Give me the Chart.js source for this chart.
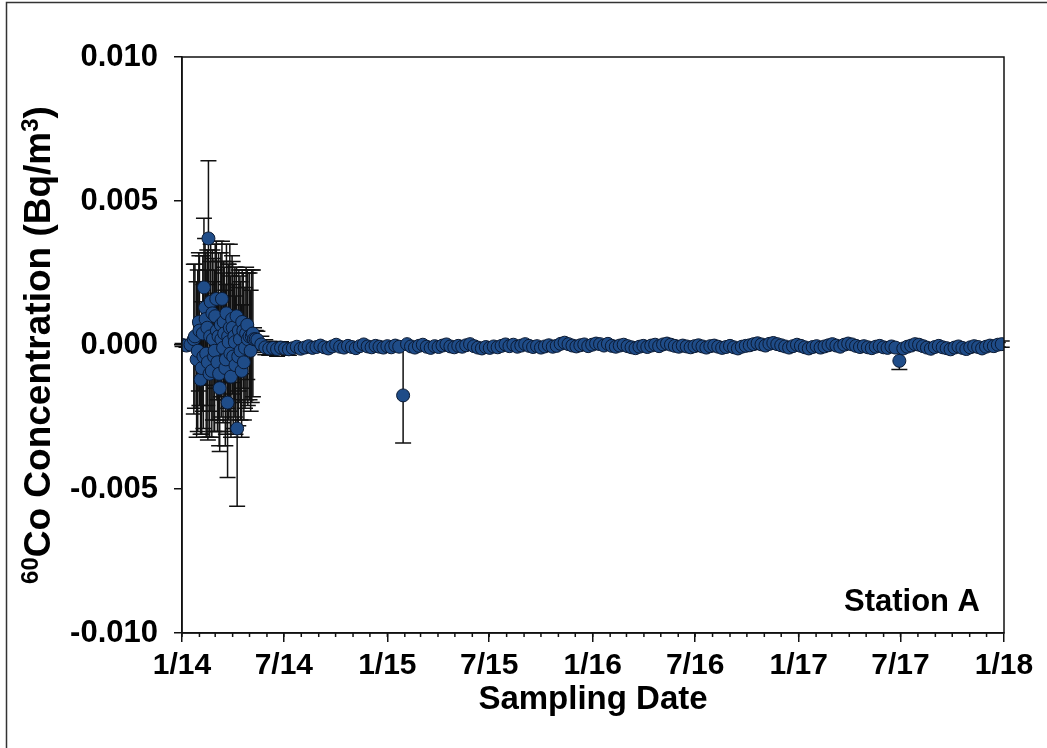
<!DOCTYPE html>
<html>
<head>
<meta charset="utf-8">
<script src="https://cdn.jsdelivr.net/npm/chart.js@4.4.1/dist/chart.umd.min.js"></script>
<style>
	body { margin: 0; background: #fff; }
	canvas { display: block; }
</style>
</head>
<body>
<canvas id="mycanvas" width="1047" height="748"></canvas>
<script>
// 60Co concentration, station A (Bq/m3), dates as YYYY-MM-DD
var janDates = ['2014-01-02', '2014-01-09', '2014-01-16'];
var janValues = [0.00000, -0.00002, 0.00001];
var janErrors = [0.00005, 0.00006, 0.00008];

var clusterDates = ['2014-01-22', '2014-01-24', '2014-01-27', '2014-01-29', '2014-01-31', '2014-02-01', '2014-02-03', '2014-02-05',
	'2014-02-07', '2014-02-08', '2014-02-09', '2014-02-11', '2014-02-12', '2014-02-13', '2014-02-15', '2014-02-16',
	'2014-02-17', '2014-02-19', '2014-02-20', '2014-02-21', '2014-02-23', '2014-02-24', '2014-02-25', '2014-02-27',
	'2014-02-28', '2014-03-01', '2014-03-03', '2014-03-04', '2014-03-05', '2014-03-07', '2014-03-08', '2014-03-09',
	'2014-03-11', '2014-03-12', '2014-03-13', '2014-03-15', '2014-03-16', '2014-03-17', '2014-03-19', '2014-03-20',
	'2014-03-21', '2014-03-23', '2014-03-24', '2014-03-25', '2014-03-27', '2014-03-28', '2014-03-29', '2014-03-31',
	'2014-04-01', '2014-04-02', '2014-04-04', '2014-04-05', '2014-04-06', '2014-04-08', '2014-04-09', '2014-04-11',
	'2014-04-12', '2014-04-14', '2014-04-15', '2014-04-17', '2014-04-18', '2014-04-20', '2014-04-21', '2014-04-23',
	'2014-04-25', '2014-04-27', '2014-04-28', '2014-05-01', '2014-05-03', '2014-05-05', '2014-05-07', '2014-05-09',
	'2014-05-12'];
var clusterValues = [0.0002, 0.0003, -0.0005, -0.0002, 0.0008, 0.0005, -0.0012, -0.0008,
	0.0004, -0.0004, 0.0020, 0.0013, 0.0009, -0.0003, 0.0006, -0.0006,
	0.0037, -0.0010, 0.0003, 0.0015, -0.0009, 0.0011, 0.0002, -0.0004,
	-0.0002, 0.0010, 0.0016, 0.0005, -0.0006, 0.0003, -0.0010, -0.0015,
	0.0007, 0.0002, 0.0016, -0.0001, 0.0008, 0.0004, -0.0008, -0.0005,
	0.0011, -0.0020, 0.0003, 0.0001, 0.0006, -0.0003, -0.0011, 0.0009,
	0.0006, -0.0004, 0.0003, 0.0001, -0.0007, 0.0010, -0.0029, -0.0004,
	0.0005, 0.0002, -0.0002, -0.0009, 0.0008, 0.0005, -0.0006, -0.0001,
	0.0004, 0.0007, 0.0002, 0.0003, -0.0002, 0.0003, 0.0004, 0.0002,
	0.0002];
var clusterErrors = [0.0026, 0.0025, 0.0027, 0.0028, 0.0024, 0.0026, 0.0019, 0.0023,
	0.0027, 0.0025, 0.0024, 0.0024, 0.0023, 0.0029, 0.0027, 0.0027,
	0.0027, 0.0022, 0.0026, 0.0020, 0.0023, 0.0022, 0.0028, 0.0026,
	0.0028, 0.0025, 0.0020, 0.0024, 0.0024, 0.0029, 0.0025, 0.0022,
	0.0025, 0.0027, 0.0020, 0.0026, 0.0021, 0.0023, 0.0027, 0.0026,
	0.0024, 0.0026, 0.0025, 0.0027, 0.0029, 0.0027, 0.0021, 0.0022,
	0.0023, 0.0025, 0.0022, 0.0026, 0.0024, 0.0017, 0.0027, 0.0024,
	0.0021, 0.0022, 0.0024, 0.0023, 0.0018, 0.0020, 0.0020, 0.0021,
	0.0023, 0.0019, 0.0023, 0.0022, 0.0021, 0.0023, 0.0022, 0.0004,
	0.0003];

var dates2014 = ['2014-05-15', '2014-05-22', '2014-05-29', '2014-06-05', '2014-06-12', '2014-06-19', '2014-06-26', '2014-07-03', '2014-07-10',
	'2014-07-17', '2014-07-24', '2014-07-31', '2014-08-07', '2014-08-14', '2014-08-21', '2014-08-28', '2014-09-04', '2014-09-11',
	'2014-09-18', '2014-09-25', '2014-10-02', '2014-10-09', '2014-10-16', '2014-10-23', '2014-10-30', '2014-11-06', '2014-11-13',
	'2014-11-20', '2014-11-27', '2014-12-04', '2014-12-11', '2014-12-18', '2014-12-25'];
var values2014 = [0.00018, 0.00002, -0.00008, -0.00012, -0.00010, -0.00014, -0.00009, -0.00012, -0.00015,
	-0.00011, -0.00006, -0.00013, -0.00009, -0.00004, -0.00010, -0.00007, -0.00002, -0.00008,
	-0.00012, -0.00005, 0.00001, -0.00006, -0.00009, -0.00003, -0.00007, -0.00011, -0.00004,
	0.00002, -0.00005, -0.00008, -0.00003, -0.00006, -0.00009];
var errors2014 = [0.00030, 0.00028, 0.00026, 0.00024, 0.00022, 0.00025, 0.00020, 0.00018, 0.00021,
	0.00016, 0.00014, 0.00015, 0.00012, 0.00011, 0.00013, 0.00010, 0.00012, 0.00009,
	0.00011, 0.00010, 0.00008, 0.00010, 0.00009, 0.00011, 0.00008, 0.00010, 0.00009,
	0.00008, 0.00010, 0.00009, 0.00011, 0.00008, 0.00010];

var dates2015 = ['2015-01-01', '2015-01-08', '2015-01-15', '2015-01-22', '2015-01-29', '2015-02-05', '2015-02-12', '2015-02-19', '2015-02-26',
	'2015-03-05', '2015-03-12', '2015-03-19', '2015-03-26', '2015-04-02', '2015-04-09', '2015-04-16', '2015-04-23', '2015-04-30',
	'2015-05-07', '2015-05-14', '2015-05-21', '2015-05-28', '2015-06-04', '2015-06-11', '2015-06-18', '2015-06-25', '2015-07-02',
	'2015-07-09', '2015-07-16', '2015-07-23', '2015-07-30', '2015-08-06', '2015-08-13', '2015-08-20', '2015-08-27', '2015-09-03',
	'2015-09-10', '2015-09-17', '2015-09-24', '2015-10-01', '2015-10-08', '2015-10-15', '2015-10-22', '2015-10-29', '2015-11-05',
	'2015-11-12', '2015-11-19', '2015-11-26', '2015-12-03', '2015-12-10', '2015-12-17', '2015-12-24', '2015-12-31'];
var values2015 = [-0.00004, -0.00008, -0.00002, -0.00006, -0.00175, 0.00003, -0.00005, -0.00009, -0.00003,
	0.00001, -0.00006, -0.00010, -0.00004, -0.00007, -0.00002, 0.00002, -0.00005, -0.00008,
	-0.00003, -0.00006, -0.00001, 0.00003, -0.00004, -0.00009, -0.00012, -0.00007, -0.00010,
	-0.00005, -0.00008, -0.00003, 0.00002, -0.00004, 0.00001, -0.00006, -0.00002, 0.00003,
	-0.00003, -0.00007, -0.00004, -0.00009, -0.00005, -0.00001, -0.00006, -0.00003, 0.00004,
	0.00008, 0.00003, -0.00002, -0.00005, -0.00001, 0.00002, -0.00004, 0.00001];
var errors2015 = [0.00009, 0.00011, 0.00008, 0.00010, 0.00165, 0.00009, 0.00010, 0.00012, 0.00008,
	0.00009, 0.00011, 0.00010, 0.00008, 0.00009, 0.00012, 0.00010, 0.00008, 0.00011,
	0.00009, 0.00010, 0.00008, 0.00012, 0.00009, 0.00010, 0.00011, 0.00008, 0.00010,
	0.00009, 0.00012, 0.00008, 0.00010, 0.00011, 0.00009, 0.00008, 0.00010, 0.00012,
	0.00009, 0.00011, 0.00008, 0.00010, 0.00009, 0.00011, 0.00008, 0.00010, 0.00012,
	0.00009, 0.00010, 0.00008, 0.00011, 0.00009, 0.00010, 0.00008, 0.00011];

var dates2016 = ['2016-01-07', '2016-01-14', '2016-01-21', '2016-01-28', '2016-02-04', '2016-02-11', '2016-02-18', '2016-02-25', '2016-03-03',
	'2016-03-10', '2016-03-17', '2016-03-24', '2016-03-31', '2016-04-07', '2016-04-14', '2016-04-21', '2016-04-28', '2016-05-05',
	'2016-05-12', '2016-05-19', '2016-05-26', '2016-06-02', '2016-06-09', '2016-06-16', '2016-06-23', '2016-06-30', '2016-07-07',
	'2016-07-14', '2016-07-21', '2016-07-28', '2016-08-04', '2016-08-11', '2016-08-18', '2016-08-25', '2016-09-01', '2016-09-08',
	'2016-09-15', '2016-09-22', '2016-09-29', '2016-10-06', '2016-10-13', '2016-10-20', '2016-10-27', '2016-11-03', '2016-11-10',
	'2016-11-17', '2016-11-24', '2016-12-01', '2016-12-08', '2016-12-15', '2016-12-22', '2016-12-29'];
var values2016 = [0.00005, 0.00003, -0.00002, 0.00004, -0.00003, -0.00006, -0.00002, 0.00001, -0.00004,
	-0.00008, -0.00011, -0.00006, -0.00003, -0.00007, -0.00002, 0.00001, -0.00004, 0.00002,
	0.00005, 0.00001, -0.00003, -0.00006, -0.00002, -0.00005, -0.00008, -0.00004, -0.00001,
	-0.00005, -0.00009, -0.00004, -0.00002, -0.00006, -0.00010, -0.00007, -0.00003, -0.00008,
	-0.00012, -0.00006, -0.00003, -0.00001, 0.00003, 0.00006, 0.00002, -0.00002, 0.00004,
	0.00007, 0.00003, -0.00001, -0.00005, -0.00009, -0.00004, 0.00001];
var errors2016 = [0.00010, 0.00008, 0.00011, 0.00009, 0.00010, 0.00012, 0.00008, 0.00009, 0.00011, 0.00010, 0.00008, 0.00012, 0.00009,
	0.00010, 0.00011, 0.00008, 0.00009, 0.00012, 0.00010, 0.00008, 0.00011, 0.00009, 0.00010, 0.00012, 0.00008, 0.00009,
	0.00011, 0.00010, 0.00008, 0.00012, 0.00009, 0.00010, 0.00011, 0.00008, 0.00009, 0.00012, 0.00010, 0.00008, 0.00011,
	0.00009, 0.00010, 0.00012, 0.00008, 0.00009, 0.00011, 0.00010, 0.00008, 0.00012, 0.00009, 0.00010, 0.00011, 0.00008];

var dates2017 = ['2017-01-05', '2017-01-12', '2017-01-19', '2017-01-26', '2017-02-02', '2017-02-09', '2017-02-16', '2017-02-23', '2017-03-02',
	'2017-03-09', '2017-03-16', '2017-03-23', '2017-03-30', '2017-04-06', '2017-04-13', '2017-04-20', '2017-04-27', '2017-05-04',
	'2017-05-11', '2017-05-18', '2017-05-25', '2017-06-01', '2017-06-08', '2017-06-15', '2017-06-22', '2017-06-29', '2017-07-06',
	'2017-07-13', '2017-07-20', '2017-07-27', '2017-08-03', '2017-08-10', '2017-08-17', '2017-08-24', '2017-08-31', '2017-09-07',
	'2017-09-14', '2017-09-21', '2017-09-28', '2017-10-05', '2017-10-12', '2017-10-19', '2017-10-26', '2017-11-02', '2017-11-09',
	'2017-11-16', '2017-11-23', '2017-11-30', '2017-12-07', '2017-12-14', '2017-12-21', '2017-12-28'];
var values2017 = [-0.00003, -0.00008, -0.00012, -0.00007, -0.00004, -0.00009, -0.00005, -0.00001, 0.00003,
	-0.00002, -0.00006, 0.00001, 0.00005, 0.00002, -0.00003, -0.00007, -0.00004, -0.00008,
	-0.00011, -0.00006, -0.00003, -0.00008, -0.00010, -0.00005, -0.00009, -0.00055, -0.00012,
	-0.00006, -0.00002, 0.00003, 0.00001, -0.00004, -0.00009, -0.00013, -0.00007, -0.00003,
	-0.00008, -0.00011, -0.00015, -0.00009, -0.00005, -0.00010, -0.00014, -0.00008, -0.00004,
	-0.00007, -0.00012, -0.00006, -0.00002, -0.00004, 0.00001, 0.00003];
var errors2017 = [0.00009, 0.00011, 0.00010, 0.00008, 0.00012, 0.00009, 0.00010, 0.00011, 0.00008, 0.00009, 0.00012, 0.00010, 0.00008,
	0.00011, 0.00009, 0.00010, 0.00012, 0.00008, 0.00009, 0.00011, 0.00010, 0.00008, 0.00012, 0.00009, 0.00010, 0.00030,
	0.00010, 0.00008, 0.00011, 0.00009, 0.00012, 0.00010, 0.00008, 0.00009, 0.00011, 0.00010, 0.00012, 0.00008, 0.00009,
	0.00011, 0.00010, 0.00008, 0.00012, 0.00009, 0.00010, 0.00011, 0.00008, 0.00009, 0.00012, 0.00010, 0.00008, 0.00011];

var tickDates = ['2014-01-01', '2014-07-01', '2015-01-01', '2015-07-01', '2016-01-01', '2016-07-01', '2017-01-01', '2017-07-01', '2018-01-01'];
var tickLabels = ['1/14', '7/14', '1/15', '7/15', '1/16', '7/16', '1/17', '7/17', '1/18'];
var yTicks = [-0.010, -0.005, 0.000, 0.005, 0.010];

function dayOf(s) {
	var p = s.split('-');
	return (Date.UTC(+p[0], p[1] - 1, +p[2]) - Date.UTC(2014, 0, 1)) / 86400000;
}

var allDates = janDates.concat(clusterDates, dates2014, dates2015, dates2016, dates2017);
var allValues = janValues.concat(clusterValues, values2014, values2015, values2016, values2017);
var allErrors = janErrors.concat(clusterErrors, errors2014, errors2015, errors2016, errors2017);

var points = [];
for (var i = 0; i < allDates.length; i++) {
	points.push({ x: dayOf(allDates[i]), y: allValues[i], err: allErrors[i] });
}

var fontFamily = "'Liberation Sans', Arial, sans-serif";

// error bars, minor ticks, titles and frame
var extras = {
	id: 'extras',
	beforeDatasetsDraw: function(chart) {
		var ctx = chart.ctx;
		var ys = chart.scales.y;
		var meta = chart.getDatasetMeta(0);
		ctx.save();
		ctx.strokeStyle = '#111';
		ctx.lineWidth = 1.5;
		meta.data.forEach(function(el, i) {
			var p = points[i];
			var top = ys.getPixelForValue(p.y + p.err);
			var bot = ys.getPixelForValue(p.y - p.err);
			ctx.beginPath();
			ctx.moveTo(el.x, top); ctx.lineTo(el.x, bot);
			ctx.moveTo(el.x - 8, top); ctx.lineTo(el.x + 8, top);
			ctx.moveTo(el.x - 8, bot); ctx.lineTo(el.x + 8, bot);
			ctx.stroke();
		});
		ctx.restore();
	},
	afterDraw: function(chart) {
		var ctx = chart.ctx;
		var a = chart.chartArea;
		var xs = chart.scales.x;
		ctx.save();
		// outer frame
		ctx.strokeStyle = '#333';
		ctx.lineWidth = 1.5;
		ctx.strokeRect(6.5, 2.5, 1200, 1000);
		// plot box
		ctx.strokeStyle = '#111';
		ctx.strokeRect(a.left, a.top, a.right - a.left, a.bottom - a.top);
		// monthly minor ticks
		ctx.beginPath();
		for (var y = 2014; y < 2018; y++) {
			for (var m = 0; m < 12; m++) {
				var px = xs.getPixelForValue((Date.UTC(y, m, 1) - Date.UTC(2014, 0, 1)) / 86400000);
				ctx.moveTo(px, a.bottom);
				ctx.lineTo(px, a.bottom + 4);
			}
		}
		ctx.stroke();
		// y title with superscripts
		ctx.fillStyle = '#000';
		ctx.translate(40, (a.top + a.bottom) / 2);
		ctx.rotate(-Math.PI / 2);
		var parts = [['60', true], ['Co Concentration (Bq/m', false], ['3', true], [')', false]];
		var big = 'bold 37px ' + fontFamily, small = 'bold 24px ' + fontFamily;
		var total = 0;
		parts.forEach(function(p) { ctx.font = p[1] ? small : big; total += ctx.measureText(p[0]).width; });
		var cx = -total / 2;
		ctx.textBaseline = 'middle';
		ctx.textAlign = 'left';
		parts.forEach(function(p) {
			ctx.font = p[1] ? small : big;
			ctx.fillText(p[0], cx, p[1] ? -9 : 0);
			cx += ctx.measureText(p[0]).width;
		});
		ctx.setTransform(1, 0, 0, 1, 0, 0);
		// x title
		ctx.font = 'bold 33px ' + fontFamily;
		ctx.textAlign = 'center';
		ctx.fillText('Sampling Date', (a.left + a.right) / 2, 700);
		// station label
		ctx.textAlign = 'right';
		ctx.textBaseline = 'alphabetic';
		ctx.font = 'bold 31px ' + fontFamily;
		ctx.fillText('Station A', a.right - 24, a.bottom - 22);
		ctx.restore();
	}
};

var ctx = document.getElementById('mycanvas');
var chart = new Chart(ctx, {
	type: 'scatter',
	data: {
		datasets: [{
			label: '60Co',
			data: points,
			pointRadius: 6.5,
			pointBackgroundColor: '#1f4c88',
			pointBorderColor: '#0b1a33',
			pointBorderWidth: 1,
			showLine: false
		}]
	},
	options: {
		responsive: false,
		animation: false,
		layout: { padding: { left: 0, right: 43, top: 57, bottom: 0 } },
		plugins: { legend: { display: false }, tooltip: { enabled: false } },
		scales: {
			x: {
				type: 'linear',
				min: dayOf(tickDates[0]),
				max: dayOf(tickDates[tickDates.length - 1]),
				afterBuildTicks: function(scale) {
					scale.ticks = tickDates.map(function(d) { return { value: dayOf(d) }; });
				},
				afterFit: function(scale) { scale.height = 115; },
				ticks: {
					autoSkip: false,
					maxRotation: 0,
					padding: 6,
					color: '#000',
					font: { family: "'Liberation Sans Narrow', " + fontFamily, size: 30, weight: 'bold' },
					callback: function(v, i) { return tickLabels[i]; }
				},
				grid: { drawOnChartArea: false, drawTicks: true, tickLength: 9, color: '#111', lineWidth: 1.5 },
				border: { display: true, color: '#111', width: 1.5 }
			},
			y: {
				min: yTicks[0],
				max: yTicks[yTicks.length - 1],
				afterBuildTicks: function(scale) {
					scale.ticks = yTicks.map(function(v) { return { value: v }; });
				},
				afterFit: function(scale) { scale.width = 182; },
				ticks: {
					padding: 16,
					color: '#000',
					font: { family: fontFamily, size: 31, weight: 'bold' },
					callback: function(v) { return Math.abs(v) < 1e-9 ? '0.000' : v.toFixed(3); }
				},
				grid: { drawOnChartArea: false, drawTicks: true, tickLength: 8, color: '#111', lineWidth: 1.5 },
				border: { display: true, color: '#111', width: 1.5 }
			}
		}
	},
	plugins: [extras]
});
</script>
</body>
</html>
